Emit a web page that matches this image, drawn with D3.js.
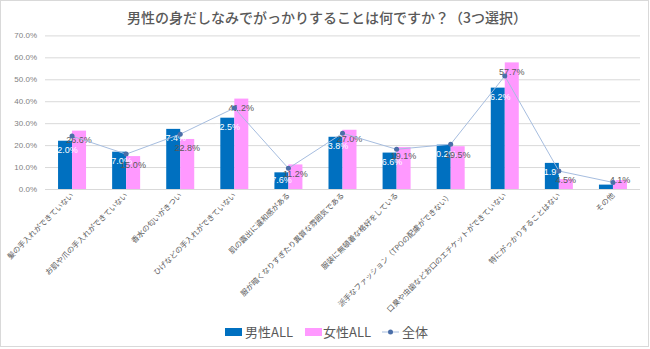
<!DOCTYPE html>
<html><head><meta charset="utf-8">
<script src="https://cdn.jsdelivr.net/npm/d3@7"></script>
<style>
body{margin:0;background:#fff;}
text{font-family:"Noto Sans CJK JP","Noto Sans",sans-serif;}
</style></head>
<body><svg id="c" width="650" height="349"></svg>
<script>
const categories = ["髪の手入れができていない","お肌や爪の手入れができていない","香水の匂いがきつい","ひげなどの手入れができていない","肌の露出に違和感がある","服が暗くなりすぎたり異質な雰囲気である","服装に無頓着な格好をしている","派手なファッション（TPOの配慮ができない）","口臭や虫歯などお口のエチケットができていない","特にがっかりすることはない","その他"];
const male = [22.0,17.0,27.4,32.5,7.6,23.8,16.6,20.2,46.2,11.9,2.0];
const female = [26.6,15.0,22.8,41.2,11.2,27.0,19.1,19.5,57.7,4.5,4.1];
const total = [24.1,15.9,25.0,36.9,9.4,25.4,18.1,20.4,51.5,8.2,3.0];
const yTicks = [0,10,20,30,40,50,60,70];
const title = "男性の身だしなみでがっかりすることは何ですか？（3つ選択）";
const seriesNames = ["男性ALL","女性ALL","全体"];

const svg = d3.select("#c");
svg.append("rect").attr("x",0.5).attr("y",0.5).attr("width",648).attr("height",346)
  .attr("fill","#fff").attr("stroke","#d9d9d9");

const x = d3.scaleBand().domain(d3.range(categories.length)).range([45,640]);
const y = d3.scaleLinear().domain([0,70]).range([189,35.4]);
const bw = 14;

svg.append("text").attr("x",327).attr("y",23).attr("text-anchor","middle")
  .attr("font-size",14).attr("font-weight","500").attr("fill","#595959").text(title);

// grid
const ga = svg.append("g").attr("transform","translate(45,0)")
  .call(d3.axisLeft(y).tickValues(yTicks).tickSize(-595).tickFormat(d=>d.toFixed(1)+"%"));
ga.select(".domain").remove();
ga.selectAll(".tick line").attr("stroke","#d9d9d9");
ga.selectAll(".tick text").attr("fill","#7f7f7f").attr("font-size",8).attr("x",-8)
  .style("font-family","Liberation Sans, Arial, sans-serif");

// bars
const g = svg.append("g");
g.selectAll(".m").data(male).join("rect")
  .attr("x",(d,i)=>x(i)+x.bandwidth()/2-bw).attr("y",d=>y(d))
  .attr("width",bw).attr("height",d=>y(0)-y(d)).attr("fill","#0070c0");
g.selectAll(".f").data(female).join("rect")
  .attr("x",(d,i)=>x(i)+x.bandwidth()/2).attr("y",d=>y(d))
  .attr("width",bw).attr("height",d=>y(0)-y(d)).attr("fill","#ff99ff");

// labels
const lab = v => Math.min(y(v)+9, y(0)-9);
g.selectAll(".ml").data(male).join("text")
  .attr("x",(d,i)=>x(i)+x.bandwidth()/2-bw/2).attr("y",d=>lab(d)).attr("dy","0.35em")
  .attr("text-anchor","middle").attr("font-size",9).attr("fill","#fff")
  .style("font-family","Liberation Sans, Arial, sans-serif")
  .text(d=>d.toFixed(1)+"%");
g.selectAll(".fl").data(female).join("text")
  .attr("x",(d,i)=>x(i)+x.bandwidth()/2+bw/2).attr("y",d=>lab(d)).attr("dy","0.35em")
  .attr("text-anchor","middle").attr("font-size",9).attr("fill","#595959")
  .style("font-family","Liberation Sans, Arial, sans-serif")
  .text(d=>d.toFixed(1)+"%");

// axis line
svg.append("line").attr("x1",45).attr("x2",640).attr("y1",y(0)+0.5).attr("y2",y(0)+0.5).attr("stroke","#d9d9d9");

// total line
const line = d3.line().x((d,i)=>x(i)+x.bandwidth()/2).y(d=>y(d));
svg.append("path").datum(total).attr("d",line).attr("fill","none").attr("stroke","#a6bddf").attr("stroke-width",1);
svg.selectAll(".pt").data(total).join("circle")
  .attr("cx",(d,i)=>x(i)+x.bandwidth()/2).attr("cy",d=>y(d)).attr("r",2.5).attr("fill","#4a6ea8");

// x labels
svg.selectAll(".xl").data(categories).join("text")
  .attr("transform",(d,i)=>`translate(${x(i)+x.bandwidth()/2+2},${196}) rotate(-45)`)
  .attr("text-anchor","end").attr("font-size",7.5).attr("fill","#595959").text(d=>d);

// legend
const lg = svg.append("g");
lg.append("rect").attr("x",225).attr("y",328).attr("width",17).attr("height",8).attr("fill","#0070c0");
lg.append("text").attr("x",245).attr("y",337).attr("font-size",13).attr("fill","#595959").text(seriesNames[0]);
lg.append("rect").attr("x",305).attr("y",328).attr("width",17).attr("height",8).attr("fill","#ff99ff");
lg.append("text").attr("x",323).attr("y",337).attr("font-size",13).attr("fill","#595959").text(seriesNames[1]);
lg.append("line").attr("x1",382).attr("x2",399).attr("y1",332).attr("y2",332).attr("stroke","#a6bddf");
lg.append("circle").attr("cx",390.5).attr("cy",332).attr("r",2.5).attr("fill","#4a6ea8");
lg.append("text").attr("x",402).attr("y",337).attr("font-size",13).attr("fill","#595959").text(seriesNames[2]);
</script></body></html>
